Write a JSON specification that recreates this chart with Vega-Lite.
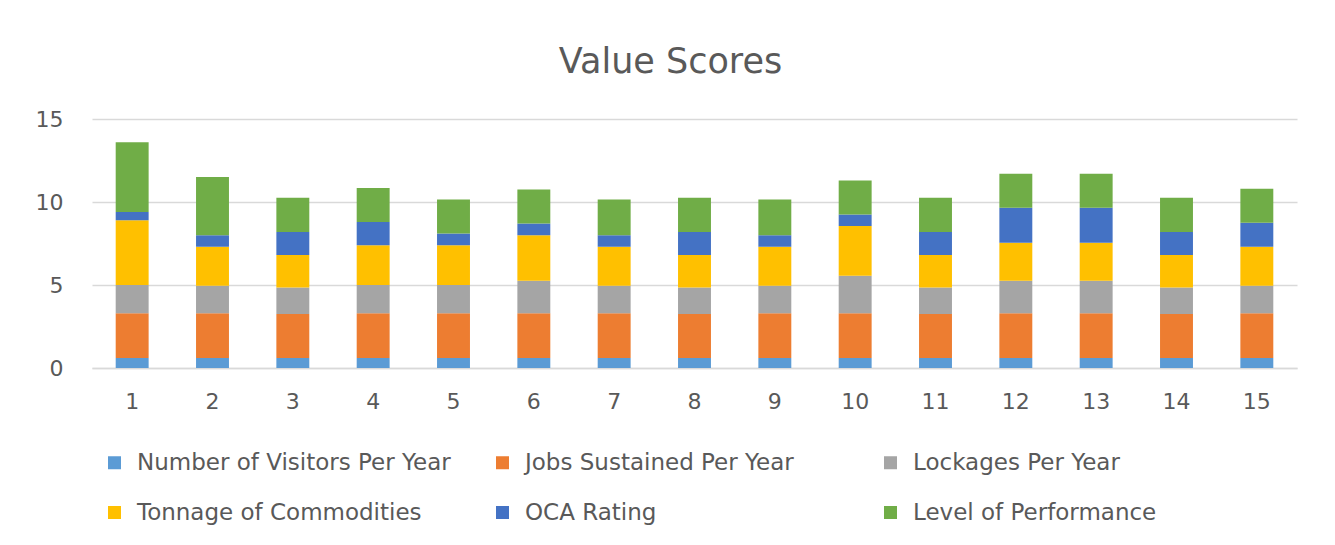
{
  "$schema": "https://vega.github.io/schema/vega-lite/v6.json",
  "autosize": "none",
  "width": 1205,
  "height": 249,
  "padding": {"left": 92, "top": 119, "right": 38, "bottom": 177},
  "background": "white",
  "title": {"text": "Value Scores", "font": "DejaVu Sans", "fontSize": 35, "fontWeight": "normal", "color": "#595959", "anchor": "middle", "dx": -24, "offset": 28},
  "datasets": {
    "scores": [
      {"s":1,"k":1,"m":"Number of Visitors Per Year","v":0.6},{"s":1,"k":2,"m":"Jobs Sustained Per Year","v":2.7},{"s":1,"k":3,"m":"Lockages Per Year","v":1.7},{"s":1,"k":4,"m":"Tonnage of Commodities","v":3.9},{"s":1,"k":5,"m":"OCA Rating","v":0.5},{"s":1,"k":6,"m":"Level of Performance","v":4.2},
      {"s":2,"k":1,"m":"Number of Visitors Per Year","v":0.6},{"s":2,"k":2,"m":"Jobs Sustained Per Year","v":2.7},{"s":2,"k":3,"m":"Lockages Per Year","v":1.65},{"s":2,"k":4,"m":"Tonnage of Commodities","v":2.35},{"s":2,"k":5,"m":"OCA Rating","v":0.7},{"s":2,"k":6,"m":"Level of Performance","v":3.5},
      {"s":3,"k":1,"m":"Number of Visitors Per Year","v":0.6},{"s":3,"k":2,"m":"Jobs Sustained Per Year","v":2.65},{"s":3,"k":3,"m":"Lockages Per Year","v":1.6},{"s":3,"k":4,"m":"Tonnage of Commodities","v":1.95},{"s":3,"k":5,"m":"OCA Rating","v":1.4},{"s":3,"k":6,"m":"Level of Performance","v":2.05},
      {"s":4,"k":1,"m":"Number of Visitors Per Year","v":0.6},{"s":4,"k":2,"m":"Jobs Sustained Per Year","v":2.7},{"s":4,"k":3,"m":"Lockages Per Year","v":1.7},{"s":4,"k":4,"m":"Tonnage of Commodities","v":2.4},{"s":4,"k":5,"m":"OCA Rating","v":1.4},{"s":4,"k":6,"m":"Level of Performance","v":2.05},
      {"s":5,"k":1,"m":"Number of Visitors Per Year","v":0.6},{"s":5,"k":2,"m":"Jobs Sustained Per Year","v":2.7},{"s":5,"k":3,"m":"Lockages Per Year","v":1.7},{"s":5,"k":4,"m":"Tonnage of Commodities","v":2.4},{"s":5,"k":5,"m":"OCA Rating","v":0.7},{"s":5,"k":6,"m":"Level of Performance","v":2.05},
      {"s":6,"k":1,"m":"Number of Visitors Per Year","v":0.6},{"s":6,"k":2,"m":"Jobs Sustained Per Year","v":2.7},{"s":6,"k":3,"m":"Lockages Per Year","v":1.95},{"s":6,"k":4,"m":"Tonnage of Commodities","v":2.75},{"s":6,"k":5,"m":"OCA Rating","v":0.7},{"s":6,"k":6,"m":"Level of Performance","v":2.05},
      {"s":7,"k":1,"m":"Number of Visitors Per Year","v":0.6},{"s":7,"k":2,"m":"Jobs Sustained Per Year","v":2.7},{"s":7,"k":3,"m":"Lockages Per Year","v":1.65},{"s":7,"k":4,"m":"Tonnage of Commodities","v":2.35},{"s":7,"k":5,"m":"OCA Rating","v":0.7},{"s":7,"k":6,"m":"Level of Performance","v":2.15},
      {"s":8,"k":1,"m":"Number of Visitors Per Year","v":0.6},{"s":8,"k":2,"m":"Jobs Sustained Per Year","v":2.65},{"s":8,"k":3,"m":"Lockages Per Year","v":1.6},{"s":8,"k":4,"m":"Tonnage of Commodities","v":1.95},{"s":8,"k":5,"m":"OCA Rating","v":1.4},{"s":8,"k":6,"m":"Level of Performance","v":2.05},
      {"s":9,"k":1,"m":"Number of Visitors Per Year","v":0.6},{"s":9,"k":2,"m":"Jobs Sustained Per Year","v":2.7},{"s":9,"k":3,"m":"Lockages Per Year","v":1.65},{"s":9,"k":4,"m":"Tonnage of Commodities","v":2.35},{"s":9,"k":5,"m":"OCA Rating","v":0.7},{"s":9,"k":6,"m":"Level of Performance","v":2.15},
      {"s":10,"k":1,"m":"Number of Visitors Per Year","v":0.6},{"s":10,"k":2,"m":"Jobs Sustained Per Year","v":2.7},{"s":10,"k":3,"m":"Lockages Per Year","v":2.25},{"s":10,"k":4,"m":"Tonnage of Commodities","v":3.0},{"s":10,"k":5,"m":"OCA Rating","v":0.7},{"s":10,"k":6,"m":"Level of Performance","v":2.05},
      {"s":11,"k":1,"m":"Number of Visitors Per Year","v":0.6},{"s":11,"k":2,"m":"Jobs Sustained Per Year","v":2.65},{"s":11,"k":3,"m":"Lockages Per Year","v":1.6},{"s":11,"k":4,"m":"Tonnage of Commodities","v":1.95},{"s":11,"k":5,"m":"OCA Rating","v":1.4},{"s":11,"k":6,"m":"Level of Performance","v":2.05},
      {"s":12,"k":1,"m":"Number of Visitors Per Year","v":0.6},{"s":12,"k":2,"m":"Jobs Sustained Per Year","v":2.7},{"s":12,"k":3,"m":"Lockages Per Year","v":1.95},{"s":12,"k":4,"m":"Tonnage of Commodities","v":2.3},{"s":12,"k":5,"m":"OCA Rating","v":2.1},{"s":12,"k":6,"m":"Level of Performance","v":2.05},
      {"s":13,"k":1,"m":"Number of Visitors Per Year","v":0.6},{"s":13,"k":2,"m":"Jobs Sustained Per Year","v":2.7},{"s":13,"k":3,"m":"Lockages Per Year","v":1.95},{"s":13,"k":4,"m":"Tonnage of Commodities","v":2.3},{"s":13,"k":5,"m":"OCA Rating","v":2.1},{"s":13,"k":6,"m":"Level of Performance","v":2.05},
      {"s":14,"k":1,"m":"Number of Visitors Per Year","v":0.6},{"s":14,"k":2,"m":"Jobs Sustained Per Year","v":2.65},{"s":14,"k":3,"m":"Lockages Per Year","v":1.6},{"s":14,"k":4,"m":"Tonnage of Commodities","v":1.95},{"s":14,"k":5,"m":"OCA Rating","v":1.4},{"s":14,"k":6,"m":"Level of Performance","v":2.05},
      {"s":15,"k":1,"m":"Number of Visitors Per Year","v":0.6},{"s":15,"k":2,"m":"Jobs Sustained Per Year","v":2.7},{"s":15,"k":3,"m":"Lockages Per Year","v":1.65},{"s":15,"k":4,"m":"Tonnage of Commodities","v":2.35},{"s":15,"k":5,"m":"OCA Rating","v":1.45},{"s":15,"k":6,"m":"Level of Performance","v":2.05}
    ]
  },
  "data": {"name": "scores"},
  "mark": {"type": "bar"},
  "encoding": {
    "x": {
      "field": "s", "type": "ordinal", "title": null,
      "scale": {"paddingInner": 0.59, "paddingOuter": 0.295},
      "axis": {"labelAngle": 0, "labelFont": "DejaVu Sans", "labelFontSize": 22, "labelColor": "#595959", "labelPadding": 23, "ticks": false, "domainColor": "#D9D9D9", "domainWidth": 1.5, "grid": false}
    },
    "y": {
      "field": "v", "type": "quantitative", "title": null, "stack": "zero",
      "scale": {"domain": [0, 15], "nice": false},
      "axis": {"values": [0, 5, 10, 15], "labelFont": "DejaVu Sans", "labelFontSize": 22, "labelColor": "#595959", "labelPadding": 29, "ticks": false, "domain": false, "gridColor": "#D9D9D9", "gridWidth": 1.5}
    },
    "color": {
      "field": "m", "type": "nominal", "title": null,
      "scale": {
        "domain": ["Number of Visitors Per Year", "Jobs Sustained Per Year", "Lockages Per Year", "Tonnage of Commodities", "OCA Rating", "Level of Performance"],
        "range": ["#5B9BD5", "#ED7D31", "#A5A5A5", "#FFC000", "#4472C4", "#70AD47"]
      },
      "legend": {
        "orient": "none", "legendX": 11, "legendY": 332, "direction": "horizontal", "columns": 3, "gridAlign": "all",
        "symbolType": "square", "symbolSize": 169, "symbolStrokeWidth": 0, "symbolOffset": 0,
        "labelFont": "DejaVu Sans", "labelFontSize": 23, "labelColor": "#595959", "labelOffset": 11, "labelLimit": 500,
        "columnPadding": 40, "rowPadding": 26
      }
    },
    "order": {"field": "k", "type": "quantitative", "sort": "ascending"}
  },
  "config": {"view": {"stroke": null}}
}
